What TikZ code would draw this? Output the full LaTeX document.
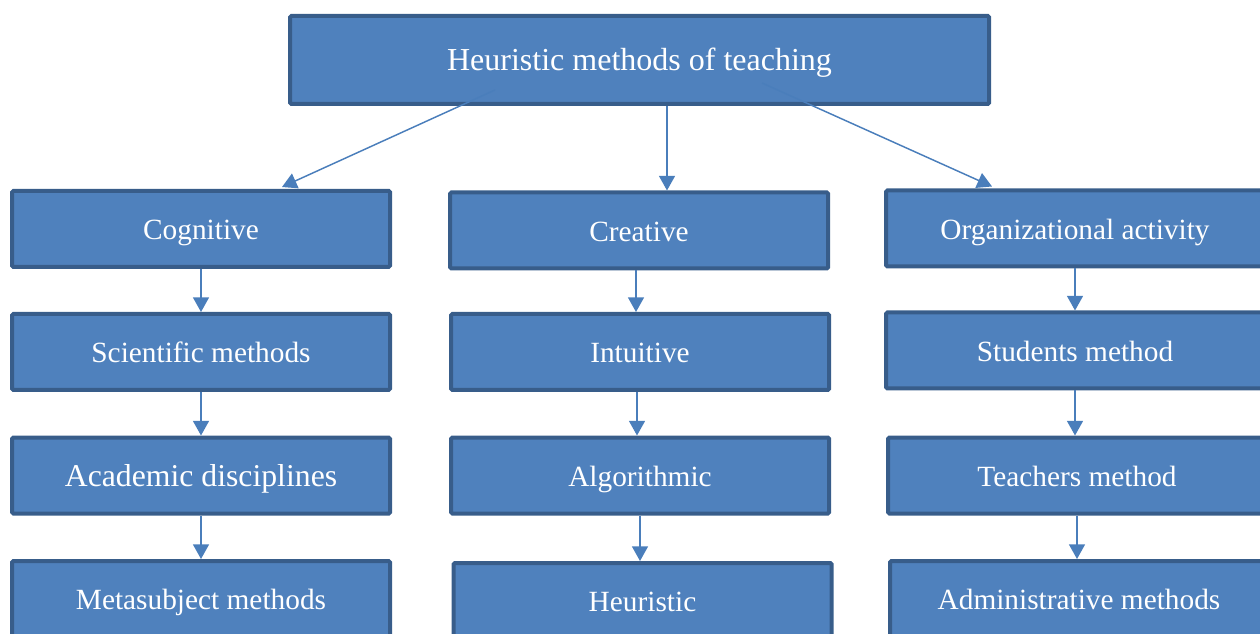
\documentclass[tikz,border=0pt]{standalone}
\usepackage{fontspec}
\setmainfont{Liberation Serif}
\usetikzlibrary{arrows.meta,calc}
\definecolor{boxfill}{HTML}{4F81BD}
\definecolor{boxline}{HTML}{385D8A}
\definecolor{arrowline}{HTML}{4A7EBB}

\begin{document}
\begin{tikzpicture}[x=.75pt, y=-.75pt,
  arr/.style={color=arrowline, line width=1.1pt, -{Triangle[length=11pt, width=12pt]}}]
\def\block{node [draw=boxline, fill=boxfill, line width=3pt, rounded corners=1pt, text=white, font=\fontsize{22}{26}\selectfont, minimum width=283.5pt, minimum height=57pt, text height=17pt, text depth=1pt, inner sep=0] }
\clip (0, 0) rectangle (1260, 634);

\draw (639.5, 60) \block [minimum width=524.25pt, minimum height=66pt, font=\fontsize{24}{28}\selectfont] (top) {Heuristic methods of teaching};

\draw (201, 229) \block (cog) {Cognitive};
\draw (201, 352) \block (sci) {Scientific methods};
\draw (201, 475.5) \block [font=\fontsize{23.8}{28}\selectfont] (aca) {Academic disciplines};
\draw (201, 599) \block (met) {Metasubject methods};

\draw (639, 230.5) \block (cre) {Creative};
\draw (640, 352) \block (int) {Intuitive};
\draw (640, 475.5) \block (alg) {Algorithmic};
\draw (642.5, 601) \block (heu) {Heuristic};

\draw (1075, 228.5) \block (org) {Organizational activity};
\draw (1075, 350.5) \block (stu) {Students method};
\draw (1077, 475.5) \block (tea) {Teachers method};
\draw (1079, 599) \block (adm) {Administrative methods};

\draw [arr] ($(top.south)+(-144.5, -16)$) -- ($(cog.north)+(81, -2)$);
\draw [arr] ($(top.south)+(27.5, 0)$) -- ($(cre.north)+(28, 0)$);
\draw [arr] ($(top.south)+(122.5, -23)$) -- ($(org.north)+(-83, -2)$);

\draw [arr] (cog.south) -- (cog.south |- sci.north);
\draw [arr] (sci.south) -- (sci.south |- aca.north);
\draw [arr] (aca.south) -- (aca.south |- met.north);

\draw [arr] ($(cre.south)+(-3, 0)$) -- ($(int.north)+(-4, 0)$);
\draw [arr] ($(int.south)+(-3, 0)$) -- ($(alg.north)+(-3, 0)$);
\draw [arr] (alg.south) -- (alg.south |- heu.north);

\draw [arr] (org.south) -- (org.south |- stu.north);
\draw [arr] (stu.south) -- (stu.south |- tea.north);
\draw [arr] (tea.south) -- (tea.south |- adm.north);

\end{tikzpicture}
\end{document}
